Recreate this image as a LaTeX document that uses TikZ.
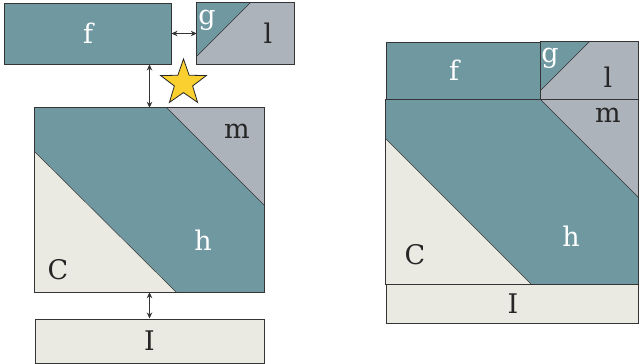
\documentclass[tikz,border=0pt]{standalone}
\usepackage{xcolor}
\usepackage{fontspec}
\setmainfont{DejaVu Serif}
\usepackage{tikz}
\usetikzlibrary{arrows.meta,positioning,shapes.geometric}
\definecolor{verdeazul}{RGB}{111,152,161}
\definecolor{cinza}{RGB}{173,179,186}
\definecolor{creme}{RGB}{234,234,226}
\definecolor{contorno}{RGB}{52,52,52}
\definecolor{ouro}{RGB}{249,208,48}
\newcommand{\fonterotulo}{\fontsize{27}{27}\selectfont}
\tikzset{
  peca/.style={rectangle,draw=contorno,line width=1pt,inner sep=0pt},
  fundo/.style={rectangle,inner sep=0pt},
  borda/.style={draw=contorno,line width=1pt},
  divisa/.style={draw=contorno,line width=0.5pt},
  rotulo/.style={inner sep=0pt,font=\fonterotulo,text=black!85},
  rotuloclaro/.style={inner sep=0pt,font=\fonterotulo,text=white},
  seta/.style={{Stealth[length=6pt,width=5.5pt]}-{Stealth[length=6pt,width=5.5pt]},line width=0.7pt,contorno},
  estrela/.style={star,star points=5,star point ratio=2.5,minimum size=48pt,inner sep=0pt,
    fill=ouro,draw=black!85,line width=0.8pt}
}

\begin{document}
\begin{tikzpicture}[x=1pt,y=-1pt]
\useasboundingbox (0,0) rectangle (640,364);
% pecas separadas
\node[peca,fill=verdeazul,minimum width=167pt,minimum height=61pt] (f) at (87.5,33.5) {};
\node[fundo,fill=cinza,minimum width=97pt,minimum height=61pt] (gl) at (245.5,33.5) {};
\fill[verdeazul] (197,3) -- (250,3) -- (197,56) -- cycle;
\draw[divisa] (250,3) -- (197,56);
\draw[borda] (gl.north west) rectangle (gl.south east);
\node[fundo,fill=verdeazul,minimum width=229pt,minimum height=184pt] (meio) at (149.5,200) {};
\fill[cinza] (167,108) -- (264,108) -- (264,205) -- cycle;
\fill[creme] (35,152) -- (35,292) -- (176,292) -- cycle;
\draw[divisa] (167,108) -- (264,205) (35,152) -- (176,292);
\draw[borda] (meio.north west) rectangle (meio.south east);
\node[peca,fill=creme,minimum width=229pt,minimum height=44pt] (faixa) at (149.5,341) {};
\node[rotuloclaro] (rf) at (88,33) {f};
\node[rotuloclaro] (rg) at (207,20) {g};
\node[rotulo] (rl) at (268,33) {l};
\node[rotulo] (rm) at (237,131) {m};
\node[rotuloclaro] (rh) at (203,240) {h};
\node[rotulo] (rc) at (58,270) {C};
\node[rotulo] (ri) at (faixa.center) {I};
\draw[seta] (f.east) -- (gl.west);
\draw[seta] (meio.north) -- (meio.north |- f.south);
\draw[seta] (meio.south) -- (faixa.north);
\node[estrela] (brilho) at (183.5,83) {};
% bloco montado
\node[peca,fill=verdeazul,minimum width=155pt,minimum height=58pt] (f2) at (463.5,71) {};
\node[fundo,fill=cinza,minimum width=97pt,minimum height=58pt] (gl2) at (589.5,71) {};
\fill[verdeazul] (541,42) -- (589,42) -- (541,90) -- cycle;
\draw[divisa] (589,42) -- (541,90);
\draw[borda] (gl2.north west) rectangle (gl2.south east);
\node[fundo,fill=verdeazul,minimum width=252pt,minimum height=184pt] (meio2) at (512,192) {};
\fill[cinza] (541,100) -- (638,100) -- (638,197) -- cycle;
\fill[creme] (386,139) -- (386,284) -- (531,284) -- cycle;
\draw[divisa] (541,100) -- (638,197) (386,139) -- (531,284);
\draw[borda] (meio2.north west) rectangle (meio2.south east);
\node[peca,fill=creme,minimum width=252pt,minimum height=39pt] (faixa2) at (512,303.5) {};
\node[rotuloclaro] (rf2) at (454,70) {f};
\node[rotuloclaro] (rg2) at (550,58) {g};
\node[rotulo] (rl2) at (608,77) {l};
\node[rotulo] (rm2) at (608,115) {m};
\node[rotuloclaro] (rh2) at (571,236) {h};
\node[rotulo] (rc2) at (415,255) {C};
\node[rotulo] (ri2) at (513,304) {I};
\end{tikzpicture}
\end{document}
